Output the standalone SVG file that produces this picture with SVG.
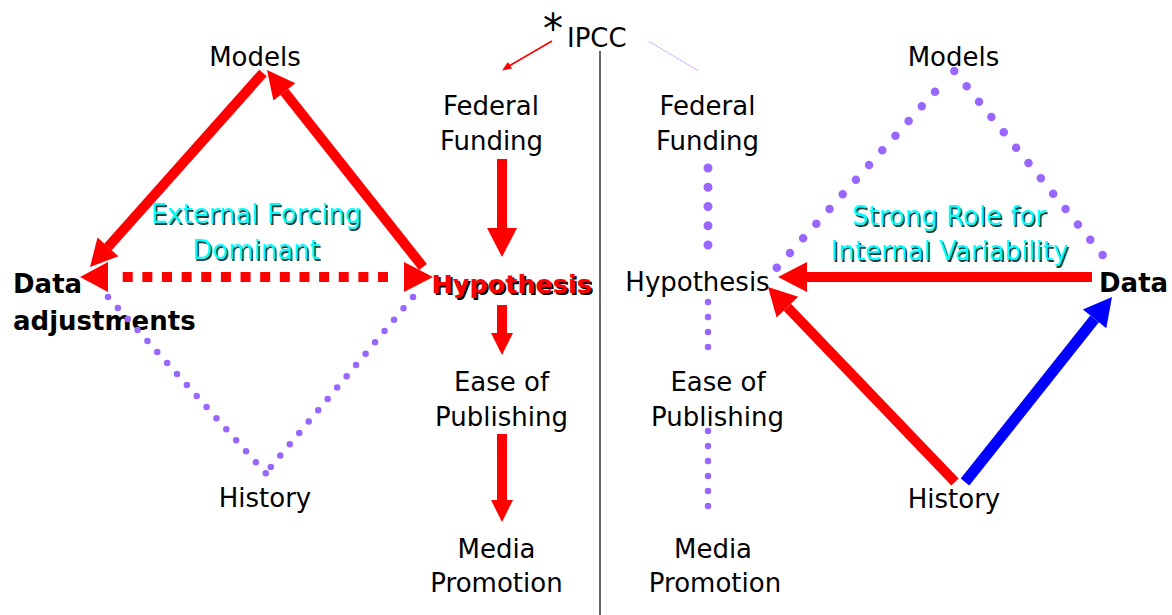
<svg xmlns="http://www.w3.org/2000/svg" width="1172" height="615" viewBox="0 0 1172 615">
<style>
text{font-family:"DejaVu Sans","Liberation Sans",sans-serif;font-size:26px;fill:#000}
.c{text-anchor:middle}
.b{font-weight:bold}
.cy{fill:#00ffff}
.sh{fill:#1f3f3f}
.red{fill:#ff0000}
.rshaft{stroke:#ff0000;stroke-width:10;fill:none}
.bshaft{stroke:#0000ff;stroke-width:11;fill:none}
.rhead{fill:#ff0000}
.bhead{fill:#0000ff}
.dot{stroke:#9966ff;stroke-linecap:round;fill:none}
</style>
<rect width="1172" height="615" fill="#fff"/>

<g id="divider"><line x1="600" y1="51" x2="600" y2="615" stroke="#333" stroke-width="1.5"/></g>

<g id="ipcc">
<text x="543" y="43" style="font-size:40px">*</text>
<text x="567" y="47">IPCC</text>
</g>

<g id="left-models"><text class="c" x="255" y="66">Models</text></g>
<g id="left-label"><text class="c sh" x="257.5" y="224.5">External Forcing</text><text class="c cy" x="256" y="223">External Forcing</text>
<text class="c sh" x="257.5" y="260.5">Dominant</text><text class="c cy" x="256" y="259">Dominant</text></g>
<g id="left-data"><text class="b" x="13" y="293">Data</text><text class="b" x="13" y="330">adjustments</text></g>
<g id="left-hypothesis"><text class="b" x="433.5" y="295" style="fill:#000;font-size:25.5px">Hypothesis</text><text class="b red" x="431.5" y="293" style="font-size:25.5px">Hypothesis</text></g>
<g id="left-history"><text class="c" x="265" y="507">History</text></g>
<g id="left-federal"><text class="c" x="491" y="115">Federal</text><text class="c" x="491.5" y="150">Funding</text></g>
<g id="left-ease"><text class="c" x="501.5" y="391">Ease of</text><text class="c" x="501.5" y="426">Publishing</text></g>
<g id="left-media"><text class="c" x="496.5" y="558">Media</text><text class="c" x="496.5" y="592">Promotion</text></g>

<g id="right-models"><text class="c" x="953.5" y="66">Models</text></g>
<g id="right-label"><text class="c sh" x="950.5" y="226.5">Strong Role for</text><text class="c cy" x="949" y="225">Strong Role for</text>
<text class="c sh" x="951" y="261.5">Internal Variability</text><text class="c cy" x="949.5" y="260">Internal Variability</text></g>
<g id="right-hypothesis"><text class="c" x="697.5" y="291">Hypothesis</text></g>
<g id="right-data"><text class="b" x="1099" y="292">Data</text></g>
<g id="right-history"><text class="c" x="954" y="508">History</text></g>
<g id="right-federal"><text class="c" x="707.5" y="115">Federal</text><text class="c" x="707.5" y="150">Funding</text></g>
<g id="right-ease"><text class="c" x="718" y="391">Ease of</text><text class="c" x="717.5" y="426">Publishing</text></g>
<g id="right-media"><text class="c" x="713" y="558">Media</text><text class="c" x="715" y="592">Promotion</text></g>

<g id="connectors">
<!-- IPCC small arrows -->
<line x1="552" y1="41" x2="509" y2="66" stroke="#ff0000" stroke-width="1.5"/>
<polygon class="rhead" points="502,70.5 508,62 512,68.5"/>
<line x1="649" y1="41.5" x2="698" y2="70.5" stroke="#9966ff" stroke-width="1" stroke-dasharray="1 1"/>

<!-- left: Models -> Data -->
<line class="rshaft" x1="263" y1="73" x2="108" y2="247"/>
<polygon class="rhead" points="90,267 118.4,256.2 97.5,237.5"/>
<!-- left: Hypothesis -> Models -->
<line class="rshaft" x1="423" y1="267" x2="284.4" y2="91.9"/>
<polygon class="rhead" points="267,70 295.4,83.2 273.4,100.6"/>
<!-- left: dashed double arrow -->
<line x1="122.7" y1="277" x2="388" y2="277" stroke="#ff0000" stroke-width="10" stroke-dasharray="10 9.64"/>
<polygon class="rhead" points="80,277 108,262 108,292"/>
<polygon class="rhead" points="433,277 404,262 404,292"/>
<!-- left: dotted to History -->
<line class="dot" x1="108" y1="297" x2="266" y2="473.5" stroke-width="6.5" stroke-dasharray="0 14.78"/>
<line class="dot" x1="413" y1="297" x2="270.7" y2="467" stroke-width="6.5" stroke-dasharray="0 14.77"/>

<!-- center chain -->
<line class="rshaft" x1="502" y1="159" x2="502" y2="229"/>
<polygon class="rhead" points="487,228 517,228 502,257"/>
<line class="rshaft" x1="502" y1="305" x2="502" y2="334"/>
<polygon class="rhead" points="491,333 513,333 502,355"/>
<line class="rshaft" x1="502" y1="434" x2="502" y2="501"/>
<polygon class="rhead" points="491,500 513,500 502,522"/>

<!-- right vertical dotted chain -->
<line class="dot" x1="708" y1="168" x2="708" y2="245.5" stroke-width="9" stroke-dasharray="0 19.25"/>
<line class="dot" x1="708" y1="302" x2="708" y2="348.5" stroke-width="6.5" stroke-dasharray="0 15"/>
<line class="dot" x1="708" y1="431" x2="708" y2="506.5" stroke-width="6.5" stroke-dasharray="0 15"/>

<!-- right triangle dotted -->
<line class="dot" x1="935" y1="91.7" x2="776.5" y2="268" stroke-width="8.5" stroke-dasharray="0 19.72"/>
<line class="dot" x1="954.3" y1="71" x2="1103" y2="255.5" stroke-width="8.5" stroke-dasharray="0 19.7"/>

<!-- right: Data -> Hypothesis -->
<line class="rshaft" x1="1092" y1="277" x2="806" y2="277" stroke-width="11"/>
<polygon class="rhead" points="778,277 807,262 807,292"/>
<!-- right: History -> Hypothesis -->
<line class="rshaft" x1="955" y1="482" x2="787.4" y2="307.2" stroke-width="11"/>
<polygon class="rhead" points="768,287 798.2,296.8 776.6,317.6"/>
<!-- right: History -> Data (blue) -->
<line class="bshaft" x1="965" y1="482" x2="1094.6" y2="318.9"/>
<polygon class="bhead" points="1112,297 1106.3,328.2 1082.9,309.6"/>
</g>
</svg>
